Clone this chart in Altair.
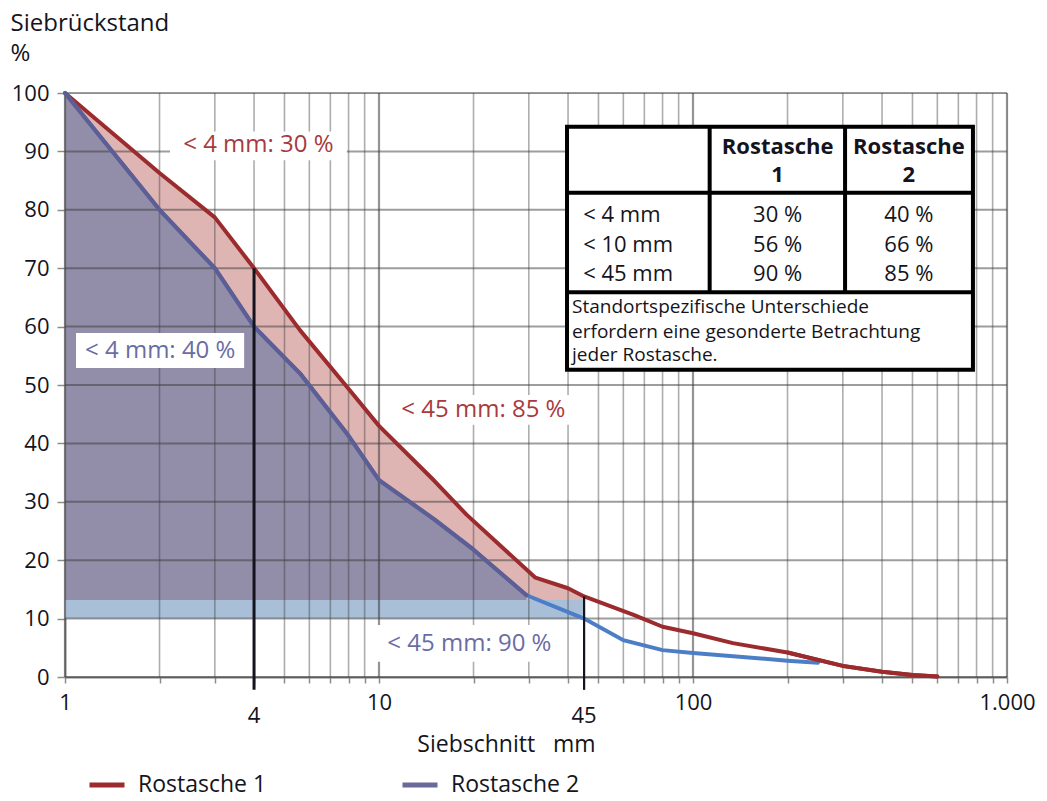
import altair as alt
import pandas as pd

# ---------------- data ----------------
r1_mm  = [1, 2, 3, 4, 5.6, 7.9, 10, 15, 19, 31.5, 40, 45, 65, 80, 100, 134, 200, 300, 400, 500, 600]
r1_pct = [100, 86.3, 78.7, 70, 59.4, 49.7, 43, 33.6, 27.8, 17, 15.2, 13.8, 10.6, 8.6, 7.5, 5.8, 4.2, 1.9, 0.9, 0.35, 0.1]
r2_mm  = [1, 2, 3, 4, 5.6, 7.9, 10, 15, 20, 29.5, 45, 60, 80, 100, 200, 250]
r2_pct = [100, 80, 70, 60, 52, 41.7, 33.7, 27, 21.8, 14, 10, 6.3, 4.6, 4.1, 2.8, 2.45]
series_names = ["Rostasche 1", "Rostasche 2"]

r2_split_mm = 29.5            # Rostasche 2 line changes colour here
shade_low, shade_top = 10, 13.2
shade_right_mm = 45

cut_mm = [4, 45]
cut_top = [70, 13.8]
cut_bottom = [-2.2, -2.2]
cut_labels = ["4", "45"]

x_minor = [2, 3, 4, 5, 6, 7, 8, 9, 20, 30, 40, 50, 60, 70, 80, 90,
           200, 300, 400, 500, 600, 700, 800, 900]
x_major = [1, 10, 100, 1000]
x_ticks = sorted(x_minor + x_major)
y_ticks = [0, 10, 20, 30, 40, 50, 60, 70, 80, 90, 100]

# annotations: text, x, y, box x1, x2, y1, y2
ann_red = [
    ("< 4 mm: 30 %", 4.13, 91.1, 2.16, 7.9, 88.5, 93.4),
    ("< 45 mm: 85 %", 21.5, 45.8, 10.6, 40.6, 43.2, 48.3),
]
ann_blue = [
    ("< 4 mm: 40 %", 2.01, 55.8, 1.084, 3.72, 52.9, 58.9),
    ("< 45 mm: 90 %", 19.4, 5.7, 9.8, 38.3, 2.6, 8.9),
]

# table (positions in data space)
tbl_x = [39.7, 779]
tbl_cols = [113, 305]
tbl_y = [52.6, 94.2]
tbl_hlines = [82.9, 65.9]
tbl_col_centers = [186, 487]
tbl_head_y = [90.75, 86.0]
tbl_head = [("Rostasche", "1"), ("Rostasche", "2")]
tbl_rows = ["< 4 mm", "< 10 mm", "< 45 mm"]
tbl_r1 = ["30 %", "56 %", "90 %"]
tbl_r2 = ["40 %", "66 %", "85 %"]
tbl_row_y = [79.1, 74.0, 69.0]
tbl_row_x = 44.7
tbl_note = ["Standortspezifische Unterschiede", "erfordern eine gesonderte Betrachtung", "jeder Rostasche."]
tbl_note_y = [63.4, 59.1, 55.1]
tbl_note_x = 41.2

# ---------------- styles ----------------
FONT = "Open Sans"
RED = "#9c2b2e"
PURPLE = "#5c5e96"
LBLUE = "#4b7ec6"
PINK = "#dfb5b4"
PURPLE_FILL = "#928da8"
BAND = "#a9bfd8"
TXT = "#141420"

# ---------------- frames ----------------
r1 = pd.DataFrame({"mm": r1_mm, "pct": r1_pct, "series": series_names[0]})
r2 = pd.DataFrame({"mm": r2_mm, "pct": r2_pct, "series": series_names[1]})
pink_df = r1[r1.mm <= shade_right_mm]
purple_df = r2[r2.mm <= r2_split_mm]
lines_df = pd.concat([r1, purple_df])
r2_tail = r2[r2.mm >= r2_split_mm]

xs = alt.Scale(type="log", domain=[1, 1000], nice=False)
ys = alt.Scale(domain=[0, 100], nice=False, zero=False)

x_axis = alt.Axis(
    values=x_ticks,
    labelExpr="datum.value == 1 ? '1' : datum.value == 10 ? '10' : datum.value == 100 ? '100' : datum.value == 1000 ? '1.000' : ''",
    labelFlush=False, labelOverlap=False, grid=False,
    tickSize=6, tickColor="#8c8c8c", tickWidth=1.5,
    domainColor="#7c7c7c", domainWidth=2,
    labelFont=FONT, labelFontSize=22, labelColor=TXT, labelPadding=9,
    title="Siebschnitt\u00a0\u00a0\u00a0mm", titleFont=FONT, titleFontSize=23,
    titleFontWeight="normal", titleColor=TXT, titleX=441, titleY=67,
    titleAlign="center", titleBaseline="middle",
)
y_axis = alt.Axis(
    values=y_ticks, grid=False,
    tickSize=8, tickColor="#8c8c8c", tickWidth=1.5,
    domainColor="#8c8c8c", domainWidth=2,
    labelFont=FONT, labelFontSize=22, labelColor=TXT, labelPadding=8,
    title=["Siebrückstand", "%"], titleFont=FONT, titleFontSize=24,
    titleFontWeight="normal", titleColor=TXT, titleAngle=0,
    titleAlign="left", titleBaseline="top", titleX=-55, titleY=-82,
    titleLineHeight=30,
)

pink = alt.Chart(pink_df).mark_area(color=PINK).encode(
    x=alt.X("mm:Q", scale=xs, axis=x_axis),
    y=alt.Y("pct:Q", scale=ys, axis=y_axis),
    y2=alt.datum(shade_top),
)
purple = alt.Chart(purple_df).mark_area(color=PURPLE_FILL).encode(
    x="mm:Q", y="pct:Q", y2=alt.datum(shade_top)
)
band = alt.Chart(pd.DataFrame({"x1": [1], "x2": [shade_right_mm], "y1": [shade_low], "y2": [shade_top]})).mark_rect(color=BAND).encode(
    x="x1:Q", x2="x2:Q", y="y1:Q", y2="y2:Q"
)

gmin = alt.Chart(pd.DataFrame({"g": x_minor})).mark_rule(color="#3c3c3c", opacity=0.42, strokeWidth=1.6).encode(
    x="g:Q", y=alt.datum(0), y2=alt.datum(100)
)
gmaj = alt.Chart(pd.DataFrame({"g": x_major})).mark_rule(color="#3c3c3c", opacity=0.55, strokeWidth=2.2).encode(
    x="g:Q", y=alt.datum(0), y2=alt.datum(100)
)
gh = alt.Chart(pd.DataFrame({"g": y_ticks})).mark_rule(color="#3c3c3c", opacity=0.5, strokeWidth=2).encode(
    y="g:Q", x=alt.datum(1), x2=alt.datum(1000)
)

lines = alt.Chart(lines_df).mark_line(strokeWidth=4, strokeCap="round", strokeJoin="round").encode(
    x="mm:Q", y="pct:Q",
    color=alt.Color("series:N", scale=alt.Scale(domain=series_names, range=[RED, "#6a699b"]),
                    legend=alt.Legend(title=None, orient="none", legendX=22, legendY=672,
                                      direction="horizontal", symbolType="stroke", symbolSize=1225,
                                      symbolStrokeWidth=5, labelFont=FONT, labelFontSize=23,
                                      labelColor=TXT, labelOffset=11, columnPadding=125, padding=0)),
    detail="series:N",
)
blue_head = alt.Chart(purple_df).mark_line(strokeWidth=4, strokeCap="round", strokeJoin="round", color=PURPLE).encode(
    x="mm:Q", y="pct:Q")
tail = alt.Chart(r2_tail).mark_line(strokeWidth=4, strokeCap="round", color=LBLUE).encode(x="mm:Q", y="pct:Q")
# redraw red line on top where it overlaps the light blue tail
red_top = alt.Chart(r1[r1.mm >= 150]).mark_line(strokeWidth=4, strokeCap="round", color=RED).encode(x="mm:Q", y="pct:Q")

cuts_df = pd.DataFrame({"mm": cut_mm, "lo": cut_bottom, "hi": cut_top, "w": [3.0, 2.2], "lab": cut_labels})
cuts = alt.Chart(cuts_df).mark_rule(color="#14141e").encode(
    x="mm:Q", y="lo:Q", y2="hi:Q", strokeWidth=alt.StrokeWidth("w:Q", scale=None)
)
cut_text = alt.Chart(cuts_df).mark_text(font=FONT, fontSize=22, color=TXT, dy=39, baseline="middle").encode(
    x="mm:Q", y=alt.datum(0), text="lab:N"
)

def ann_frame(rows):
    return pd.DataFrame(rows, columns=["t", "x", "y", "bx1", "bx2", "by1", "by2"])

ann_r = ann_frame(ann_red)
ann_b = ann_frame(ann_blue)
ann_all = pd.concat([ann_r, ann_b])
boxes = alt.Chart(ann_all).mark_rect(color="white").encode(x="bx1:Q", x2="bx2:Q", y="by1:Q", y2="by2:Q")
txt_r = alt.Chart(ann_r).mark_text(font=FONT, fontSize=24, color="#a83a3e", baseline="middle").encode(
    x="x:Q", y="y:Q", text="t:N")
txt_b = alt.Chart(ann_b).mark_text(font=FONT, fontSize=24, color="#6a6da3", baseline="middle").encode(
    x="x:Q", y="y:Q", text="t:N")

# table
tbl_box = alt.Chart(pd.DataFrame({"x1": [tbl_x[0]], "x2": [tbl_x[1]], "y1": [tbl_y[0]], "y2": [tbl_y[1]]})).mark_rect(
    fill="white", stroke="black", strokeWidth=4).encode(x="x1:Q", x2="x2:Q", y="y1:Q", y2="y2:Q")
tbl_v = alt.Chart(pd.DataFrame({"c": tbl_cols, "lo": [tbl_hlines[1]] * 2, "hi": [tbl_y[1]] * 2})).mark_rule(
    color="black", strokeWidth=4).encode(x="c:Q", y="lo:Q", y2="hi:Q")
tbl_h = alt.Chart(pd.DataFrame({"r": tbl_hlines, "lo": [tbl_x[0]] * 2, "hi": [tbl_x[1]] * 2})).mark_rule(
    color="black", strokeWidth=4).encode(y="r:Q", x="lo:Q", x2="hi:Q")

head_rows = []
for (a, b), cx in zip(tbl_head, tbl_col_centers):
    head_rows.append({"t": a, "x": cx, "y": tbl_head_y[0]})
    head_rows.append({"t": b, "x": cx, "y": tbl_head_y[1]})
tbl_head_t = alt.Chart(pd.DataFrame(head_rows)).mark_text(
    font=FONT, fontSize=22, fontWeight="bold", color=TXT, baseline="middle").encode(x="x:Q", y="y:Q", text="t:N")

val_rows = []
for lab, v1, v2, yy in zip(tbl_rows, tbl_r1, tbl_r2, tbl_row_y):
    val_rows.append({"t": v1, "x": tbl_col_centers[0], "y": yy})
    val_rows.append({"t": v2, "x": tbl_col_centers[1], "y": yy})
tbl_vals = alt.Chart(pd.DataFrame(val_rows)).mark_text(
    font=FONT, fontSize=22, color=TXT, baseline="middle").encode(x="x:Q", y="y:Q", text="t:N")
tbl_labs = alt.Chart(pd.DataFrame({"t": tbl_rows, "x": [tbl_row_x] * 3, "y": tbl_row_y})).mark_text(
    font=FONT, fontSize=22, color=TXT, baseline="middle", align="left").encode(x="x:Q", y="y:Q", text="t:N")
tbl_note_t = alt.Chart(pd.DataFrame({"t": tbl_note, "x": [tbl_note_x] * 3, "y": tbl_note_y})).mark_text(
    font=FONT, fontSize=19, color=TXT, baseline="middle", align="left").encode(x="x:Q", y="y:Q", text="t:N")

chart = alt.layer(
    pink, purple, band, gmin, gmaj, gh, tail, lines, blue_head, red_top, cuts, cut_text,
    boxes, txt_r, txt_b, tbl_box, tbl_v, tbl_h, tbl_head_t, tbl_vals, tbl_labs, tbl_note_t,
).properties(
    width=942, height=584,
    autosize=alt.AutoSizeParams(type="none"),
    padding={"left": 57, "top": 85, "right": 32, "bottom": 120},
).configure_view(stroke=None).configure(background="white")

chart.save("out.html", embed_options={"renderer": "svg", "actions": False})
